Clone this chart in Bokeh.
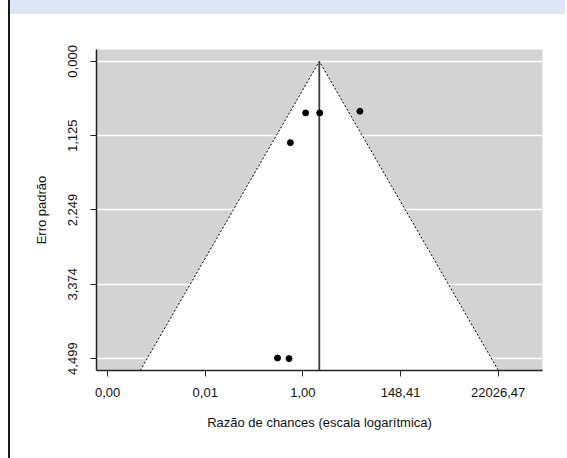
from bokeh.plotting import figure
from bokeh.models import Range1d, FixedTicker, Spacer
from bokeh.layouts import row, column
from bokeh.embed import file_html
from bokeh.resources import INLINE

# ---- data ----
study_log_or = [0.14, 0.86, 2.92, -0.64, -1.30, -0.71]
study_se = [0.78, 0.78, 0.755, 1.23, 4.49, 4.499]
pooled_log_or = 0.84
se_ticks = [0.0, 1.125, 2.249, 3.374, 4.499]
se_tick_labels = ["0,000", "1,125", "2,249", "3,374", "4,499"]
x_ticks = [-10, -5, 0, 5, 10]
x_tick_labels = ["0,00", "0,01", "1,00", "148,41", "22026,47"]
x_lim = [-10.57, 12.27]
y_lim = [-0.18, 4.679]

FONT = "Liberation Sans"

p = figure(width=555, height=444, output_backend="svg", toolbar_location=None,
           x_range=Range1d(x_lim[0], x_lim[1]), y_range=Range1d(y_lim[1], y_lim[0]),
           min_border_left=86, min_border_right=23, min_border_top=35, min_border_bottom=88)
p.background_fill_color = "#d3d3d3"
p.border_fill_color = "white"
p.outline_line_color = None

# grid: white horizontal lines at se ticks
p.xgrid.visible = False
p.ygrid.ticker = FixedTicker(ticks=se_ticks)
p.ygrid.grid_line_color = "white"
p.ygrid.grid_line_width = 1.5

# funnel region
bottom = y_lim[1]
lo = pooled_log_or - 1.96 * bottom
hi = pooled_log_or + 1.96 * bottom
p.patch([lo, pooled_log_or, hi], [bottom, 0, bottom], fill_color="white", line_color=None)
p.line([lo, pooled_log_or, hi], [bottom, 0, bottom], line_color="black", line_width=1, line_dash="2 2")
p.line([pooled_log_or, pooled_log_or], [0, bottom], line_color="#3a3a3a", line_width=1.8)

# study points
p.scatter(study_log_or, study_se, size=6, fill_color="black", line_color="black")

# axes
p.xaxis.ticker = FixedTicker(ticks=x_ticks)
p.xaxis.major_label_overrides = {t: l for t, l in zip(x_ticks, x_tick_labels)}
p.yaxis.ticker = FixedTicker(ticks=se_ticks)
p.yaxis.major_label_overrides = {t: l for t, l in zip(se_ticks, se_tick_labels)}
p.yaxis.major_label_orientation = "vertical"
p.xaxis.axis_label = "Razão de chances (escala logarítmica)"
p.yaxis.axis_label = "Erro padrão"
for ax in (p.xaxis[0], p.yaxis[0]):
    ax.axis_line_color = "#222222"
    ax.axis_line_width = 1.5
    ax.major_tick_line_color = "#222222"
    ax.major_tick_line_width = 1
    ax.major_tick_out = 6
    ax.major_tick_in = 0
    ax.minor_tick_out = 0
    ax.minor_tick_in = 0
    ax.major_label_text_font = FONT
    ax.major_label_text_font_size = "13px"
    ax.major_label_text_color = "#111111"
    ax.axis_label_text_font = FONT
    ax.axis_label_text_font_size = "13px"
    ax.axis_label_text_font_style = "normal"
    ax.axis_label_text_color = "#111111"
p.xaxis.major_label_standoff = 11
p.xaxis.axis_label_standoff = 15
p.yaxis.major_label_standoff = 13
p.yaxis.axis_label_standoff = 17

# page decorations: left margin, frame line and header band
left_gap = Spacer(width=8, height=458)
frame_line = Spacer(width=2, height=458, styles={"background-color": "#1a1a1a"})
header = Spacer(width=555, height=14, styles={"background-color": "#dce6f4"})

layout = row(left_gap, frame_line, column(header, p, spacing=0), spacing=0)

open("out.html", "w").write(file_html(layout, INLINE))
